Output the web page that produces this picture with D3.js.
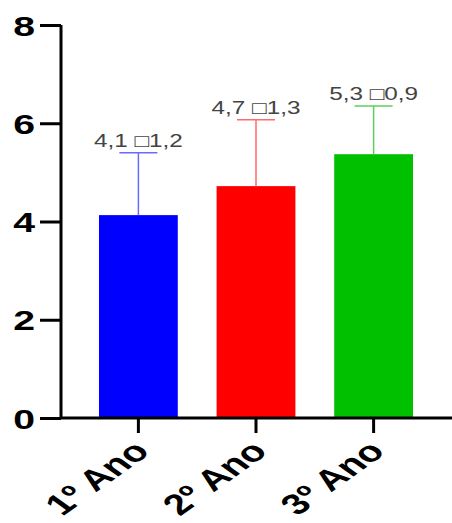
<!DOCTYPE html>
<html>
<head>
<meta charset="utf-8">
<script src="https://cdn.jsdelivr.net/npm/d3@7"></script>
<style>
  body { margin: 0; background: #fff; }
  svg { display: block; }
</style>
</head>
<body>
<svg id="chart" width="452" height="523"></svg>
<script>
var categories = ['1º Ano', '2º Ano', '3º Ano'];
var means = [4.13, 4.72, 5.37];
var errors = [1.27, 1.35, 0.98];
var valueLabels = ['4,1 \u25A11,2', '4,7 \u25A11,3', '5,3 \u25A10,9'];
var barColors = ['#0000ff', '#ff0000', '#00c000'];
var errColors = ['#6a6aff', '#ff6a6a', '#5ccf5c'];
var yTicks = [0, 2, 4, 6, 8];

var svg = d3.select('#chart');
var stretch = 1.4;

var x = d3.scaleBand()
  .domain(categories)
  .range([79, 433])
  .paddingInner(0.33)
  .paddingOuter(0.17);

var y = d3.scaleLinear()
  .domain([0, 8])
  .range([418, 25]);

// bars
svg.selectAll('.bar')
  .data(categories)
  .enter()
  .append('rect')
  .attr('class', 'bar')
  .attr('x', d => x(d))
  .attr('width', x.bandwidth())
  .attr('y', (d, i) => y(means[i]))
  .attr('height', (d, i) => y(0) - y(means[i]))
  .attr('fill', (d, i) => barColors[i]);

// error bars (upper whisker only)
var err = svg.selectAll('.err')
  .data(categories)
  .enter()
  .append('g')
  .attr('class', 'err')
  .attr('stroke', (d, i) => errColors[i])
  .attr('stroke-width', 1.5);

err.append('line')
  .attr('x1', d => x(d) + x.bandwidth() / 2)
  .attr('x2', d => x(d) + x.bandwidth() / 2)
  .attr('y1', (d, i) => y(means[i]))
  .attr('y2', (d, i) => y(means[i] + errors[i]));

err.append('line')
  .attr('x1', d => x(d) + x.bandwidth() / 2 - 19)
  .attr('x2', d => x(d) + x.bandwidth() / 2 + 19)
  .attr('y1', (d, i) => y(means[i] + errors[i]))
  .attr('y2', (d, i) => y(means[i] + errors[i]));

// value labels
svg.selectAll('.vlabel')
  .data(categories)
  .enter()
  .append('text')
  .attr('class', 'vlabel')
  .attr('transform', (d, i) => 'translate(' + (x(d) + x.bandwidth() / 2) + ',' + (y(means[i] + errors[i]) - 6) + ') scale(1.35,1)')
  .attr('text-anchor', 'middle')
  .attr('font-family', 'Liberation Sans, Arial, sans-serif')
  .attr('font-size', 18)
  .attr('fill', '#444')
  .text((d, i) => valueLabels[i]);

// y axis
var yAxis = svg.append('g')
  .attr('transform', 'translate(61,0)')
  .call(d3.axisLeft(y).tickValues(yTicks).tickSize(21).tickPadding(5));
yAxis.select('.domain').attr('stroke', '#000').attr('stroke-width', 3)
  .attr('d', 'M0,' + y(8) + 'V' + y(0));
yAxis.selectAll('.tick line').attr('stroke', '#000').attr('stroke-width', 3);
yAxis.selectAll('.tick text')
  .attr('x', null)
  .attr('dy', null)
  .attr('transform', 'translate(-26,10) scale(' + stretch + ',1)')
  .attr('text-anchor', 'end')
  .attr('font-family', 'Liberation Sans, Arial, sans-serif')
  .attr('font-weight', 'bold')
  .attr('font-size', 28)
  .attr('fill', '#000');

// x axis
var xAxis = svg.append('g')
  .attr('transform', 'translate(0,' + y(0) + ')')
  .call(d3.axisBottom(x).tickSize(15).tickPadding(6));
xAxis.select('.domain').attr('stroke', '#000').attr('stroke-width', 3)
  .attr('d', 'M61,0H452');
xAxis.selectAll('.tick line').attr('stroke', '#000').attr('stroke-width', 3);
xAxis.selectAll('.tick text')
  .attr('y', null)
  .attr('dy', null)
  .attr('transform', 'translate(13,35) scale(' + stretch + ',1) rotate(-45)')
  .attr('text-anchor', 'end')
  .attr('font-family', 'Liberation Sans, Arial, sans-serif')
  .attr('font-weight', 'bold')
  .attr('font-size', 29)
  .attr('fill', '#000');
</script>
</body>
</html>
